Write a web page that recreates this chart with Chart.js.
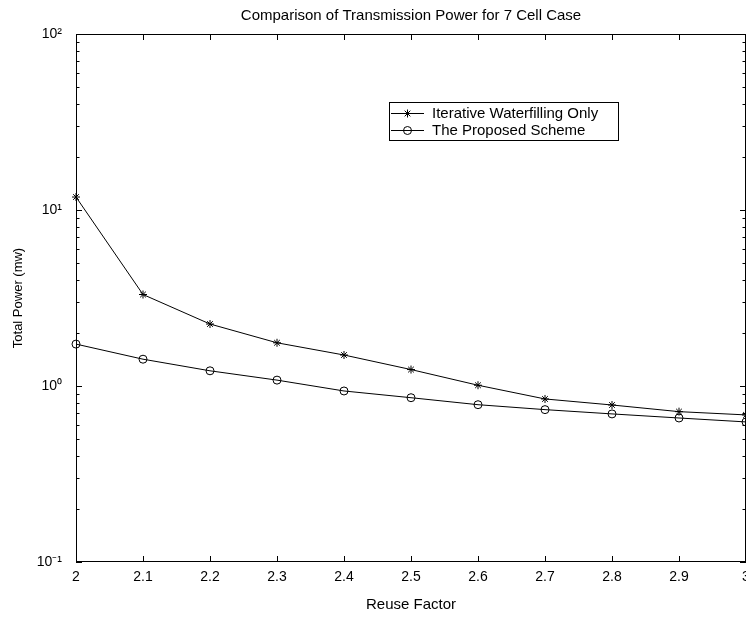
<!DOCTYPE html>
<html>
<head>
<meta charset="utf-8">
<script src="https://cdn.jsdelivr.net/npm/chart.js@4.4.0/dist/chart.umd.min.js"></script>
<style>
    html, body { margin: 0; padding: 0; background: #fff; overflow: hidden; }
    #wrap { width: 746px; height: 617px; }
</style>
</head>
<body>
<div id="wrap"><canvas id="myChart" width="746" height="617"></canvas></div>
<script>
// data
var chartTitle = "Comparison of Transmission Power for 7 Cell Case";
var xTitle = "Reuse Factor";
var yTitle = "Total Power (mw)";
var seriesNames = ["Iterative Waterfilling Only", "The Proposed Scheme"];
var reuseFactor = [2.0, 2.1, 2.2, 2.3, 2.4, 2.5, 2.6, 2.7, 2.8, 2.9, 3.0];
var waterfillingOnly = [11.85, 3.31, 2.25, 1.76, 1.50, 1.24, 1.01, 0.844, 0.78, 0.715, 0.685];
var proposedScheme = [1.73, 1.42, 1.22, 1.08, 0.937, 0.858, 0.783, 0.734, 0.694, 0.658, 0.625];
var xTickLabels = ["2", "2.1", "2.2", "2.3", "2.4", "2.5", "2.6", "2.7", "2.8", "2.9", "3"];
var yTickValues = [0.1, 1, 10, 100];
var yTickLabels = ["10\u207B\u00B9", "10\u2070", "10\u00B9", "10\u00B2"];

var fontFamily = "'Liberation Sans', Arial, Helvetica, sans-serif";
Chart.defaults.color = "#000";
Chart.defaults.font.family = fontFamily;

function toPoints(values) {
    var pts = [];
    for (var i = 0; i < reuseFactor.length; i++) {
        pts.push({ x: reuseFactor[i], y: values[i] });
    }
    return pts;
}

function isDecade(v) {
    var l = Math.log10(v);
    return Math.abs(l - Math.round(l)) < 1e-9;
}

// box around the plot with inward ticks (matlab style)
var frameTicks = {
    id: "frameTicks",
    beforeDatasetsDraw: function (chart) {
        var ctx = chart.ctx, a = chart.chartArea;
        var xs = chart.scales.x, ys = chart.scales.y;
        ctx.save();
        ctx.strokeStyle = "#000";
        ctx.lineWidth = 1;
        ctx.strokeRect(a.left + 0.5, a.top + 0.5, a.right - a.left - 1, a.bottom - a.top - 1);
        ctx.beginPath();
        xs.ticks.forEach(function (t) {
            var px = Math.round(xs.getPixelForValue(t.value)) + 0.5;
            ctx.moveTo(px, a.bottom);
            ctx.lineTo(px, a.bottom - 6);
            ctx.moveTo(px, a.top);
            ctx.lineTo(px, a.top + 6);
        });
        ys.ticks.forEach(function (t) {
            var py = Math.round(ys.getPixelForValue(t.value)) + 0.5;
            var len = isDecade(t.value) ? 6 : 3.5;
            ctx.moveTo(a.left, py);
            ctx.lineTo(a.left + len, py);
            ctx.moveTo(a.right, py);
            ctx.lineTo(a.right - len, py);
        });
        ctx.stroke();
        ctx.restore();
    },
    afterDraw: function (chart) {
        var ctx = chart.ctx, a = chart.chartArea;
        ctx.save();
        ctx.fillStyle = "#000";
        ctx.font = "15px " + fontFamily;
        ctx.textAlign = "center";
        ctx.textBaseline = "middle";
        ctx.fillText(chartTitle, (a.left + a.right) / 2, 16);
        ctx.restore();
    }
};

// legend box inside the plot
var boxLegend = {
    id: "boxLegend",
    afterDatasetsDraw: function (chart) {
        var ctx = chart.ctx;
        var bx = 389, by = 102, bw = 229, bh = 38;
        ctx.save();
        ctx.fillStyle = "#fff";
        ctx.fillRect(bx, by, bw, bh);
        ctx.strokeStyle = "#000";
        ctx.lineWidth = 1;
        ctx.strokeRect(bx + 0.5, by + 0.5, bw, bh);
        chart.data.datasets.forEach(function (ds, i) {
            var rowY = 113.5 + i * 17;
            ctx.strokeStyle = "#000";
            ctx.beginPath();
            ctx.moveTo(391, rowY);
            ctx.lineTo(424, rowY);
            ctx.stroke();
            ctx.fillStyle = ds.pointBackgroundColor;
            Chart.helpers.drawPoint(ctx, {
                pointStyle: ds.pointStyle,
                radius: ds.pointRadius,
                rotation: 0,
                borderWidth: 1
            }, 407.5, rowY);
            ctx.fillStyle = "#000";
            ctx.font = "15px " + fontFamily;
            ctx.textAlign = "left";
            ctx.textBaseline = "middle";
            ctx.fillText(ds.label, 432, rowY + 0.5);
        });
        ctx.restore();
    }
};

var ctx = document.getElementById("myChart").getContext("2d");
var myChart = new Chart(ctx, {
    type: "line",
    data: {
        datasets: [{
            label: seriesNames[0],
            data: toPoints(waterfillingOnly),
            borderColor: "#000",
            borderWidth: 1,
            pointStyle: "star",
            pointRadius: 4,
            pointBorderColor: "#000",
            pointBackgroundColor: "#000",
            pointBorderWidth: 1,
            fill: false,
            tension: 0,
            clip: false
        }, {
            label: seriesNames[1],
            data: toPoints(proposedScheme),
            borderColor: "#000",
            borderWidth: 1,
            pointStyle: "circle",
            pointRadius: 4,
            pointBorderColor: "#000",
            pointBackgroundColor: "rgba(0,0,0,0)",
            pointBorderWidth: 1,
            fill: false,
            tension: 0,
            clip: false
        }]
    },
    options: {
        responsive: false,
        animation: false,
        layout: { autoPadding: false, padding: { top: 34, left: 0, right: 0, bottom: 0 } },
        plugins: {
            legend: { display: false },
            title: { display: false },
            tooltip: { enabled: false }
        },
        scales: {
            x: {
                type: "linear",
                min: 2,
                max: 3,
                grid: { display: false, drawTicks: false },
                border: { display: false },
                afterBuildTicks: function (scale) {
                    scale.ticks = reuseFactor.map(function (v) { return { value: v }; });
                },
                afterFit: function (scale) {
                    scale.height = 55;
                    scale.paddingRight = 0;
                    scale.paddingLeft = 0;
                },
                ticks: {
                    autoSkip: false,
                    maxRotation: 0,
                    padding: 7,
                    font: { size: 14 },
                    callback: function (v, i) { return xTickLabels[i]; }
                },
                title: {
                    display: true,
                    text: xTitle,
                    font: { size: 15 },
                    padding: { top: 0, bottom: 3 }
                }
            },
            y: {
                type: "logarithmic",
                min: 0.1,
                max: 100,
                grid: { display: false, drawTicks: false },
                border: { display: false },
                afterBuildTicks: function (scale) {
                    var t = [];
                    for (var e = -1; e < 2; e++) {
                        for (var m = 1; m < 10; m++) {
                            t.push({ value: m * Math.pow(10, e) });
                        }
                    }
                    t.push({ value: 100 });
                    scale.ticks = t;
                },
                afterFit: function (scale) {
                    scale.width = 76;
                    scale.paddingTop = 0;
                    scale.paddingBottom = 0;
                },
                ticks: {
                    autoSkip: false,
                    padding: 14,
                    font: { size: 14 },
                    callback: function (v) {
                        for (var i = 0; i < yTickValues.length; i++) {
                            if (Math.abs(Math.log10(v) - Math.log10(yTickValues[i])) < 1e-9) return yTickLabels[i];
                        }
                        return "";
                    }
                },
                title: {
                    display: true,
                    text: yTitle,
                    font: { size: 13 },
                    padding: { top: 11, bottom: 0 }
                }
            }
        }
    },
    plugins: [frameTicks, boxLegend]
});
</script>
</body>
</html>
